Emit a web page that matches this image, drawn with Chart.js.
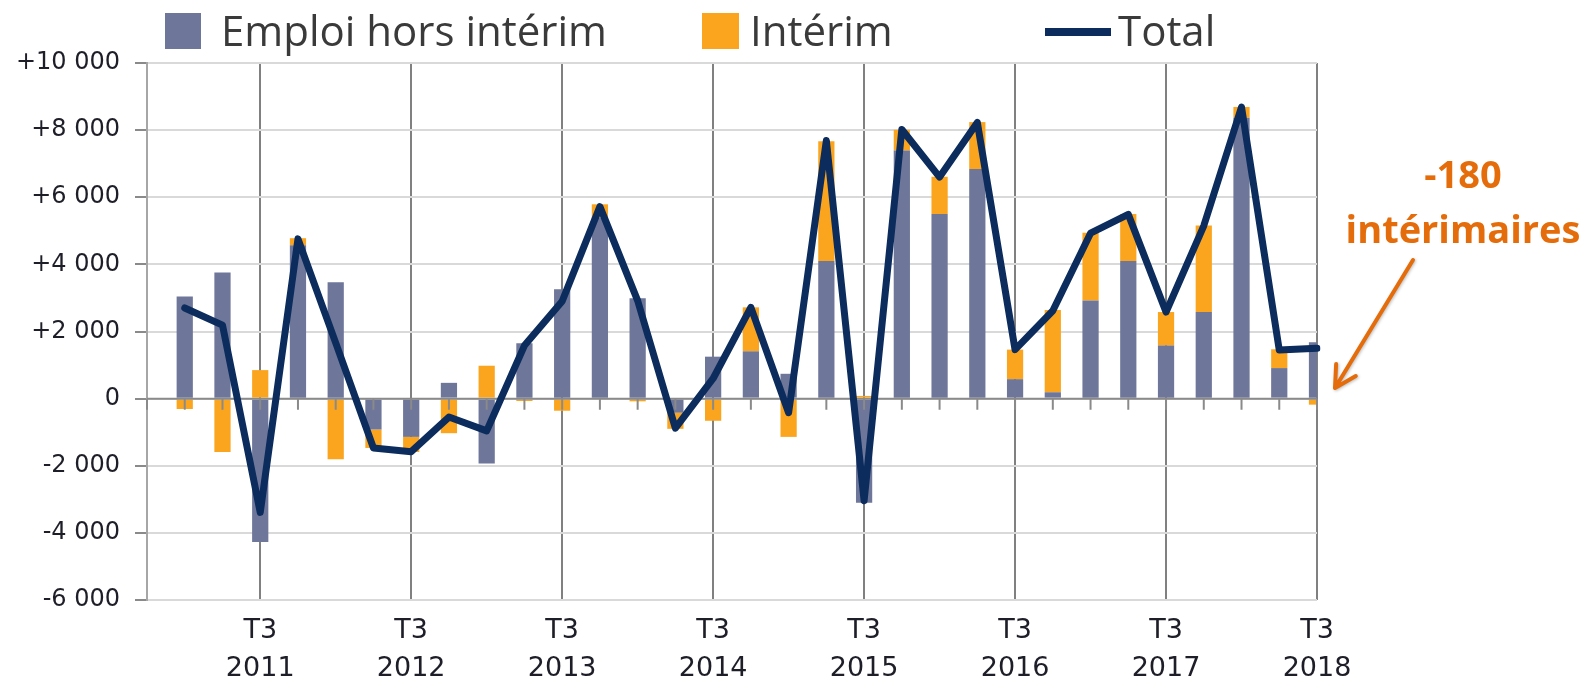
<!DOCTYPE html>
<html lang="fr">
<head>
<meta charset="utf-8">
<title>Emploi hors intérim et intérim</title>
<script src="https://cdn.jsdelivr.net/npm/chart.js@4"></script>
<style>
  html, body { margin: 0; padding: 0; background: #fff; }
  #wrap { position: relative; width: 1587px; height: 681px; overflow: hidden; }
  #chart { position: absolute; left: 0; top: 0; }
  .leg { position: absolute; font-family: "Open Sans", sans-serif; font-size: 42px; color: #3a3a3a; line-height: 1; white-space: nowrap; }
  .swatch { position: absolute; }
  #note { position: absolute; left: 1340px; top: 146px; width: 246px; text-align: center;
          font-family: "Open Sans", sans-serif; font-weight: bold; font-size: 38px; line-height: 55px; color: #e46c0a; }
</style>
</head>
<body>
<div id="wrap">
  <canvas id="chart" width="1587" height="681"></canvas>
  <div class="swatch" style="left:165px;top:13px;width:36px;height:36px;background:#6e7699"></div>
  <div class="leg" style="left:221px;top:9px">Emploi hors intérim</div>
  <div class="swatch" style="left:702px;top:13px;width:37px;height:36px;background:#fba51f"></div>
  <div class="leg" style="left:750px;top:9px">Intérim</div>
  <div class="swatch" style="left:1045px;top:28px;width:66px;height:8px;background:#0b2c5c"></div>
  <div class="leg" style="left:1118px;top:9px">Total</div>
  <div id="note">-180<br>intérimaires</div>
</div>
<script>
  // --- Data (variations trimestrielles) ---
  const QUARTERS = [
    "T4 2010",
    "T1 2011", "T2 2011", "T3 2011", "T4 2011",
    "T1 2012", "T2 2012", "T3 2012", "T4 2012",
    "T1 2013", "T2 2013", "T3 2013", "T4 2013",
    "T1 2014", "T2 2014", "T3 2014", "T4 2014",
    "T1 2015", "T2 2015", "T3 2015", "T4 2015",
    "T1 2016", "T2 2016", "T3 2016", "T4 2016",
    "T1 2017", "T2 2017", "T3 2017", "T4 2017",
    "T1 2018", "T2 2018", "T3 2018"
  ];
  const EMPLOI_HORS_INTERIM = [
    null,
    3040, 3760, -4270, 4570,
    3470, -920, -1140, 470,
    -1930, 1650, 3260, 5400,
    2990, -420, 1250, 1410,
    740, 4100, -3100, 7390,
    5500, 6840, 580, 190,
    2920, 4100, 1580, 2580,
    8370, 910, 1680
  ];
  const INTERIM = [
    null,
    -310, -1590, 850, 210,
    -1810, -550, -450, -1030,
    980, -70, -360, 390,
    -80, -480, -660, 1310,
    -1140, 3570, 80, 620,
    1110, 1400, 880, 2450,
    2020, 1400, 1000, 2580,
    320, 560, -180
  ];
  const TOTAL = [
    null,
    2700, 2190, -3390, 4760,
    1660, -1470, -1580, -550,
    -960, 1580, 2900, 5720,
    2920, -880, 600, 2720,
    -420, 7690, -3040, 8020,
    6600, 8230, 1460, 2620,
    4930, 5490, 2580, 5150,
    8690, 1450, 1500
  ];
  const Y_MIN = -6000;
  const Y_MAX = 10000;
  const Y_STEP = 2000;

  const isT3 = (i) => QUARTERS[i] && QUARTERS[i].startsWith("T3");

  function fmt(v) {
    if (v === 0) return "0";
    const s = String(Math.abs(v)).replace(/\B(?=(\d{3})+(?!\d))/g, " ");
    return (v > 0 ? "+" : "-") + s;
  }

  // small ticks on the zero line, drawn over the bars but under the total line
  const zeroAxis = {
    id: "zeroAxis",
    afterDatasetDraw(chart, args) {
      if (args.index !== 0) return;
      const { ctx, scales: { x, y } } = chart;
      const y0 = y.getPixelForValue(0);
      ctx.save();
      ctx.strokeStyle = "#8a8a8a";
      ctx.lineWidth = 2;
      ctx.beginPath();
      ctx.moveTo(x.left, y0);
      ctx.lineTo(x.right, y0);
      QUARTERS.forEach((q, i) => {
        const px = x.getPixelForValue(i);
        ctx.moveTo(px, y0);
        ctx.lineTo(px, y0 + 11);
      });
      ctx.stroke();
      ctx.restore();
    }
  };

  // arrow from the note towards the last bar
  const noteArrow = {
    id: "noteArrow",
    afterDraw(chart) {
      const { ctx, chartArea } = chart;
      const x0 = chartArea.right + 96, y0 = 260;
      const x1 = chartArea.right + 18, y1 = 388;
      const ang = Math.atan2(y1 - y0, x1 - x0);
      ctx.save();
      ctx.strokeStyle = "#e46c0a";
      ctx.lineWidth = 4;
      ctx.lineCap = "round";
      ctx.shadowColor = "rgba(0,0,0,0.25)";
      ctx.shadowBlur = 3;
      ctx.shadowOffsetX = 1;
      ctx.shadowOffsetY = 1;
      ctx.beginPath();
      ctx.moveTo(x0, y0);
      ctx.lineTo(x1, y1);
      for (const d of [-0.5, 0.5]) {
        ctx.moveTo(x1, y1);
        ctx.lineTo(x1 - 24 * Math.cos(ang + d), y1 - 24 * Math.sin(ang + d));
      }
      ctx.stroke();
      ctx.restore();
    }
  };

  const ctx = document.getElementById("chart").getContext("2d");
  new Chart(ctx, {
    data: {
      labels: QUARTERS,
      datasets: [
        {
          type: "bar",
          label: "Emploi hors intérim",
          data: EMPLOI_HORS_INTERIM,
          backgroundColor: "#6e7699",
          stack: "emploi",
          order: 1,
          categoryPercentage: 1,
          barPercentage: 0.43,
        },
        {
          type: "bar",
          label: "Intérim",
          data: INTERIM,
          backgroundColor: "#fba51f",
          stack: "emploi",
          order: 1,
          categoryPercentage: 1,
          barPercentage: 0.43,
        },
        {
          type: "line",
          label: "Total",
          data: TOTAL,
          borderColor: "#0b2c5c",
          borderWidth: 7,
          borderJoinStyle: "round",
          borderCapStyle: "round",
          pointRadius: 0,
          tension: 0,
          fill: false,
          stack: "total",
          order: 0,
        },
      ],
    },
    options: {
      responsive: false,
      animation: false,
      layout: { padding: { top: 63, right: 270, left: 0, bottom: 0 } },
      plugins: {
        legend: { display: false },
        tooltip: { enabled: false },
      },
      scales: {
        x: {
          type: "category",
          stacked: true,
          offset: false,
          grid: {
            offset: false,
            color: (c) => (isT3(c.index) ? "#808080" : "rgba(0,0,0,0)"),
            lineWidth: 2,
            drawTicks: false,
          },
          border: { display: false },
          ticks: {
            autoSkip: false,
            maxRotation: 0,
            padding: 12,
            color: "#1e1e28",
            font: { family: "DejaVu Sans", size: 27, lineHeight: 1.4 },
            callback: (v, i) => (isT3(i) ? QUARTERS[i].split(" ") : ""),
          },
          afterFit: (s) => { s.height = 81; },
        },
        y: {
          stacked: true,
          min: Y_MIN,
          max: Y_MAX,
          ticks: {
            stepSize: Y_STEP,
            padding: 15,
            color: "#1e1e28",
            font: { family: "DejaVu Sans", size: 24 },
            callback: (v) => fmt(v),
          },
          grid: {
            color: "#d9d9d9",
            lineWidth: 2,
            tickLength: 12,
            tickColor: "#8a8a8a",
          },
          border: { color: "#a6a6a6", width: 2 },
          afterFit: (s) => { s.width = 147; },
        },
      },
    },
    plugins: [zeroAxis, noteArrow],
  });
</script>
</body>
</html>
